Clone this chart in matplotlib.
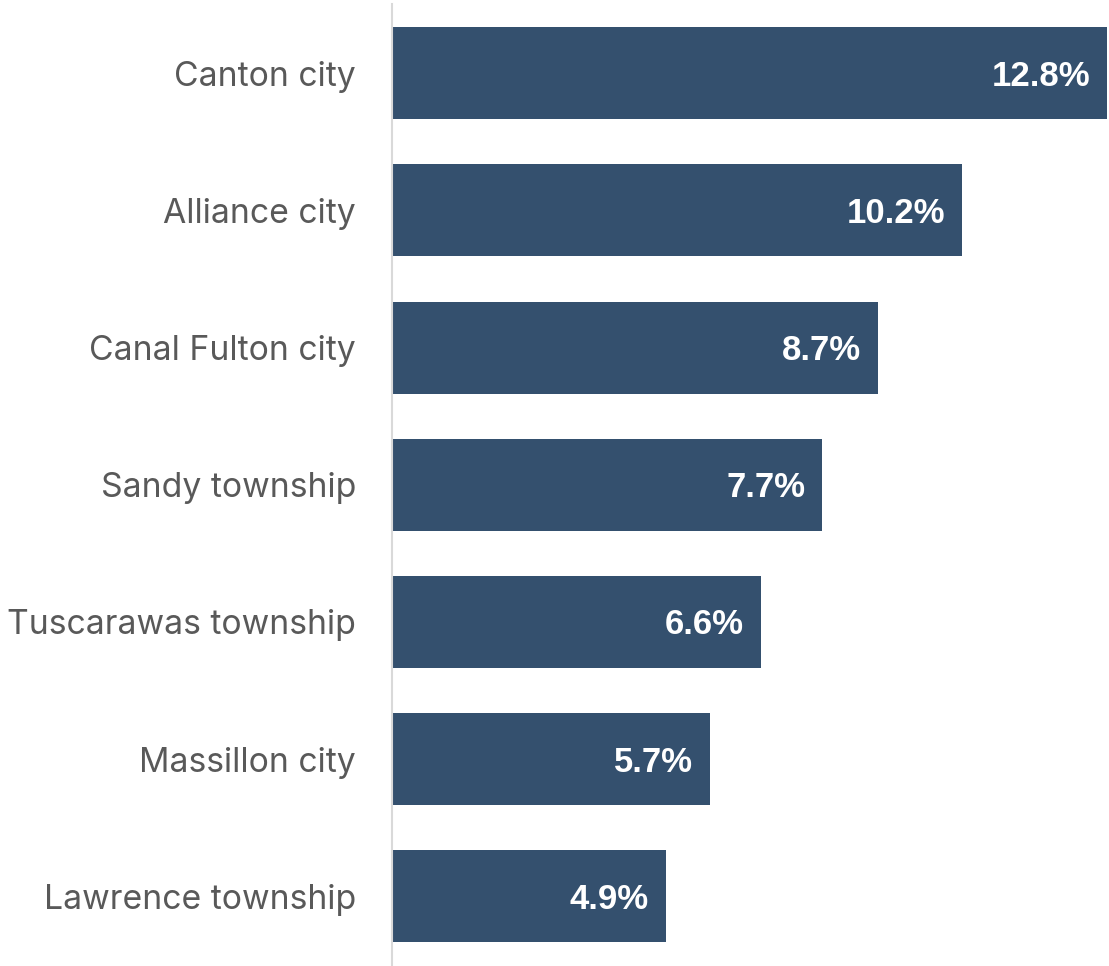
import matplotlib.pyplot as plt

places = ['Canton city', 'Alliance city', 'Canal Fulton city', 'Sandy township',
          'Tuscarawas township', 'Massillon city', 'Lawrence township']
values = [12.8, 10.2, 8.7, 7.7, 6.6, 5.7, 4.9]

bar_color = '#34506E'
W, H = 1109, 966

fig = plt.figure(figsize=(W / 100, H / 100), dpi=100)
ax = fig.add_axes([392 / W, 1 - 965 / H, (1107 - 392) / W, (965 - 4.5) / H])

pos = list(range(len(places)))
ax.barh(pos, values, height=0.67, color=bar_color)
ax.set_xlim(0, 12.8)
ax.set_ylim(len(places) - 0.5, -0.5)

for y, v in zip(pos, values):
    ax.annotate(f'{v}%', xy=(v, y), xytext=(-17, -3), textcoords='offset pixels',
                ha='right', va='center', color='white', fontsize=25,
                fontweight='bold', family='Liberation Sans')

ax.set_yticks(pos)
ax.set_yticklabels(places, fontsize=24.3, color='#595959', family='Inter')
ax.tick_params(axis='y', length=0, pad=26)
ax.set_xticks([])

for s in ['top', 'right', 'bottom']:
    ax.spines[s].set_visible(False)
ax.spines['left'].set_color('#D9D9D9')
ax.spines['left'].set_linewidth(1.5)

fig.savefig('out.png', dpi=100)
